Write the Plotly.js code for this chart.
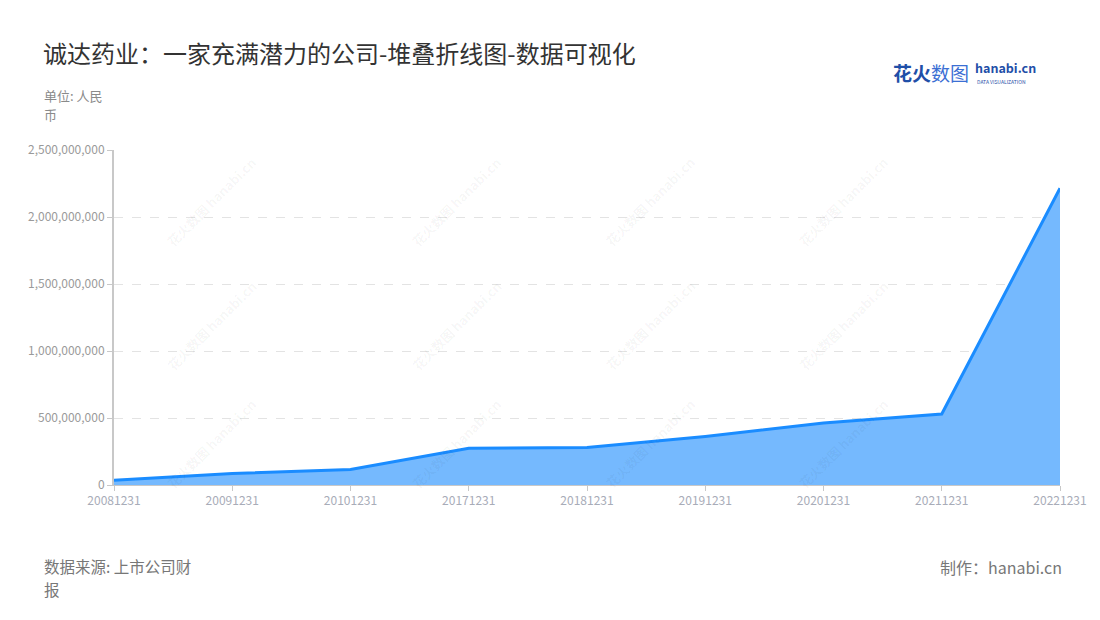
<!DOCTYPE html>
<html>
<head>
<meta charset="utf-8">
<script src="https://cdn.plot.ly/plotly-3.0.1.min.js"></script>
<style>html,body{margin:0;padding:0;background:#fff;}#chart{width:1100px;height:620px;}</style>
</head>
<body>
<div id="chart"></div>
<script>
const categories = ['20081231','20091231','20101231','20171231','20181231','20191231','20201231','20211231','20221231'];
const values = [35000000, 86000000, 116000000, 275000000, 280000000, 362000000, 463000000, 530000000, 2214000000];
const yTickVals = [0, 500000000, 1000000000, 1500000000, 2000000000, 2500000000];
const yTickText = ['0', '500,000,000', '1,000,000,000', '1,500,000,000', '2,000,000,000', '2,500,000,000'];

const FONT = '"Noto Sans CJK SC", "Noto Sans", sans-serif';

const trace = {
  type: 'scatter',
  mode: 'lines',
  x: categories,
  y: values,
  fill: 'tozeroy',
  fillcolor: '#75b9fe',
  line: {color: '#1a8cff', width: 3},
  hoverinfo: 'x+y'
};

// watermark annotations
const wm = [];
const wmX = [160, 405, 650, 895];
const wmY = [150, 325, 495];
wmX.forEach(px => wmY.forEach(py => {
  wm.push({
    xref: 'paper', yref: 'paper',
    x: (px - 114) / 946, y: (485 - py) / 335,
    text: '<b>花火数图</b> <b>hanabi.cn</b>',
    showarrow: false, textangle: -45,
    font: {family: FONT, size: 13, color: 'rgba(0,0,0,0.045)'}
  });
}));

const layout = {
  width: 1100, height: 620,
  paper_bgcolor: '#fff', plot_bgcolor: '#fff',
  margin: {l: 114, r: 40, t: 150, b: 135},
  showlegend: false,
  font: {family: FONT},
  title: {
    text: '诚达药业：一家充满潜力的公司-堆叠折线图-数据可视化',
    x: 43 / 1100, xref: 'container', xanchor: 'left',
    y: 1 - 55 / 620, yref: 'container', yanchor: 'middle',
    font: {family: FONT, size: 24, color: '#333'}
  },
  xaxis: {
    type: 'category',
    range: [0, 8],
    showgrid: false,
    showline: true, linecolor: '#c8c8c8', linewidth: 1,
    ticks: 'outside', ticklen: 5, tickcolor: '#c8c8c8',
    tickfont: {family: FONT, size: 12, color: '#a8acb8'},
    zeroline: false,
    fixedrange: true
  },
  yaxis: {
    range: [0, 2500000000],
    tickvals: yTickVals,
    ticktext: yTickText,
    showgrid: true, gridcolor: '#e3e3e3', griddash: 'dash', gridwidth: 1,
    showline: true, linecolor: '#c8c8c8', linewidth: 2,
    ticks: 'outside', ticklen: 5, tickcolor: '#c8c8c8',
    tickfont: {family: FONT, size: 12, color: '#9a9a9a'},
    zeroline: false,
    fixedrange: true
  },
  annotations: wm.concat([
    {xref: 'paper', yref: 'paper', x: -72/946, y: (485-95.5)/335, xanchor: 'left', yanchor: 'middle',
     text: '单位: 人民', showarrow: false, font: {family: FONT, size: 13, color: '#8a8a8a'}},
    {xref: 'paper', yref: 'paper', x: -72/946, y: (485-115)/335, xanchor: 'left', yanchor: 'middle',
     text: '币', showarrow: false, font: {family: FONT, size: 13, color: '#8a8a8a'}},
    {xref: 'paper', yref: 'paper', x: -72/946, y: (485-566)/335, xanchor: 'left', yanchor: 'middle',
     text: '数据来源: 上市公司财', showarrow: false, font: {family: FONT, size: 15.5, color: '#777'}},
    {xref: 'paper', yref: 'paper', x: -72/946, y: (485-589)/335, xanchor: 'left', yanchor: 'middle',
     text: '报', showarrow: false, font: {family: FONT, size: 15.5, color: '#777'}},
    {xref: 'paper', yref: 'paper', x: (1064-114)/946, y: (485-567)/335, xanchor: 'right', yanchor: 'middle',
     text: '制作：hanabi.cn', showarrow: false, font: {family: FONT, size: 16, color: '#777'}},
    // logo
    {xref: 'paper', yref: 'paper', x: (891-114)/946, y: (485-72)/335, xanchor: 'left', yanchor: 'middle',
     text: '<b>花火</b><span style="color:#3b6fd4">数图</span>', showarrow: false,
     font: {family: FONT, size: 19, color: '#1f4fa8'}},
    {xref: 'paper', yref: 'paper', x: (973-114)/946, y: (485-68)/335, xanchor: 'left', yanchor: 'middle',
     text: '<b>hanabi.cn</b>', showarrow: false,
     font: {family: FONT, size: 12.5, color: '#1f4fa8'}},
    {xref: 'paper', yref: 'paper', x: (975-114)/946, y: (485-81)/335, xanchor: 'left', yanchor: 'middle',
     text: 'DATA VISUALIZATION', showarrow: false,
     font: {family: FONT, size: 5, color: '#1f4fa8'}}
  ])
};

Plotly.newPlot('chart', [trace], layout, {displayModeBar: false, staticPlot: true});
</script>
</body>
</html>
